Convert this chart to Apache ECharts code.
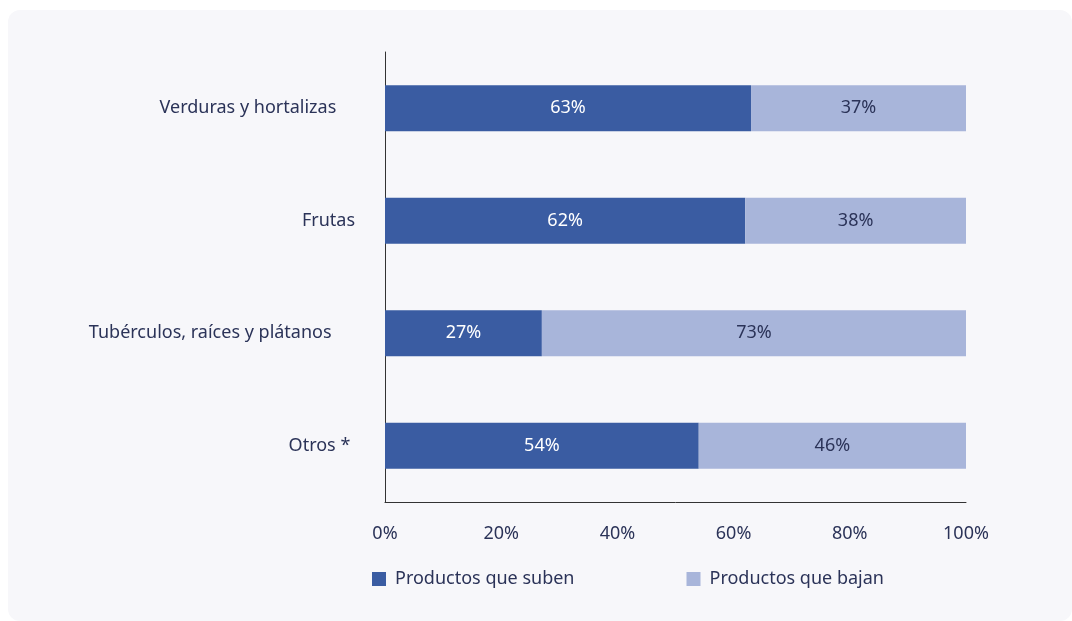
<!DOCTYPE html>
<html>
<head>
<meta charset="utf-8">
<script src="https://cdn.jsdelivr.net/npm/echarts@6/dist/echarts.min.js"></script>
<style>
  html, body { margin: 0; padding: 0; background: #ffffff; }
  .card {
    position: absolute; left: 8px; top: 10px; width: 1064px; height: 611px;
    background: #f7f7fa; border-radius: 12px;
  }
  #main { position: absolute; left: 0; top: 0; width: 1072px; height: 621px; }
</style>
</head>
<body>
<div class="card"></div>
<div id="main"></div>
<script>
// labels keep the trailing spaces they have in the source
const categories = ["Verduras y hortalizas    ", "Frutas", "Tubérculos, raíces y plátanos     ", "Otros * "];
const suben = [63, 62, 27, 54];
const bajan = [37, 38, 73, 46];
const seriesNames = ["Productos que suben", "Productos que bajan"];
const xTicks = [0, 20, 40, 60, 80, 100];

const textColor = "#2b3358";
const font = "Noto Sans";

let chart = echarts.init(document.getElementById("main"));
chart.setOption({
  backgroundColor: "transparent",
  textStyle: { fontFamily: font },
  animation: false,
  grid: { left: 385, right: 106, top: 52, bottom: 119 },
  legend: {
    left: 372,
    top: 570,
    padding: 0,
    itemWidth: 14,
    itemHeight: 14,
    itemGap: 112,
    icon: "rect",
    textStyle: { color: textColor, fontSize: 18, fontFamily: font, padding: [0, 0, 0, 4] },
    data: seriesNames
  },
  xAxis: {
    type: "value",
    min: xTicks[0],
    max: xTicks[xTicks.length - 1],
    interval: 20,
    axisLine: { show: true, lineStyle: { color: "#333333", width: 1 } },
    axisTick: { show: false },
    splitLine: { show: false },
    axisLabel: { color: textColor, fontSize: 18, margin: 23, formatter: "{value}%" }
  },
  yAxis: {
    type: "category",
    inverse: true,
    data: categories,
    axisLine: { show: true, lineStyle: { color: "#333333", width: 1 } },
    axisTick: { show: false },
    axisLabel: { color: textColor, fontSize: 18, margin: 30 }
  },
  series: [
    {
      name: seriesNames[0],
      type: "bar",
      stack: "total",
      barWidth: 46,
      data: suben,
      itemStyle: { color: "#3a5ca2" },
      label: { show: true, position: "inside", color: "#ffffff", fontSize: 18, formatter: "{c}%" }
    },
    {
      name: seriesNames[1],
      type: "bar",
      stack: "total",
      barWidth: 46,
      data: bajan,
      itemStyle: { color: "#a8b5da" },
      label: { show: true, position: "inside", color: textColor, fontSize: 18, formatter: "{c}%" }
    }
  ]
});
</script>
</body>
</html>
